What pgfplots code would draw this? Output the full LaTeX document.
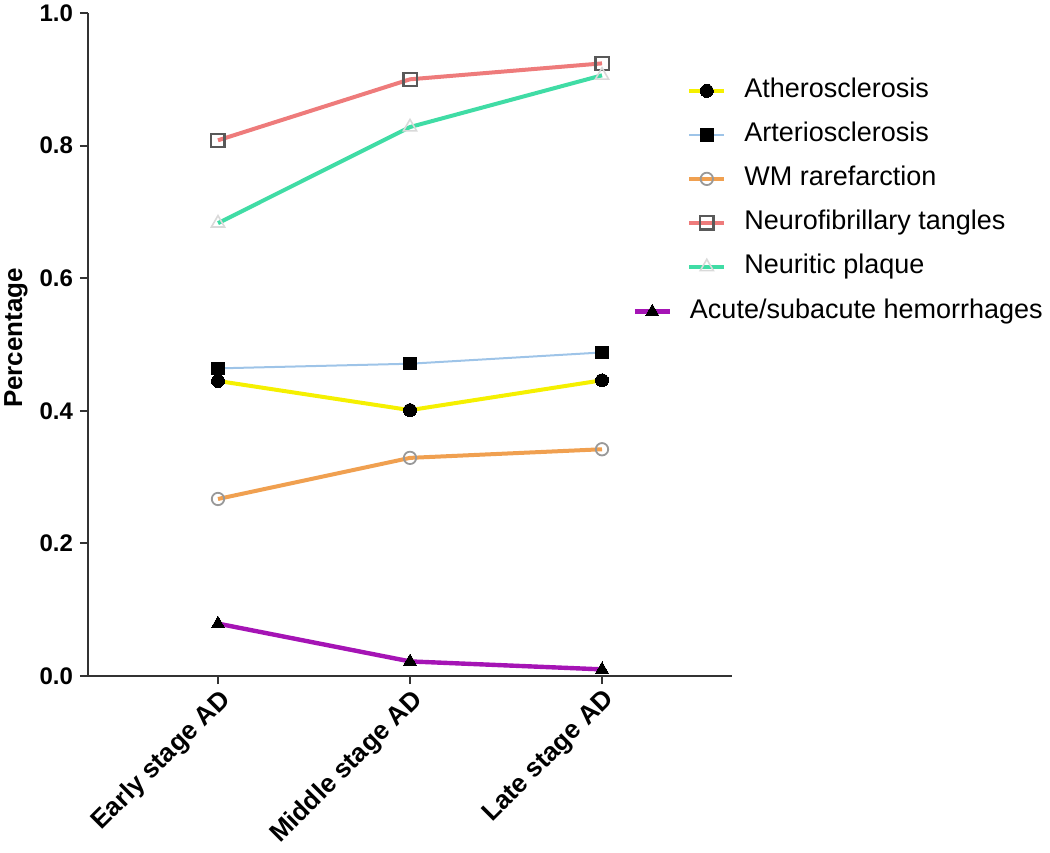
\documentclass[border=0pt]{standalone}
\usepackage{pgfplots}
\pgfplotsset{compat=1.18}
\usepackage{fontspec}
\setmainfont{Liberation Sans}

\definecolor{cAth}{HTML}{F5F000}
\definecolor{cArt}{HTML}{9EC4E8}
\definecolor{cWM}{HTML}{F0A050}
\definecolor{cNft}{HTML}{EE7B7B}
\definecolor{cNp}{HTML}{40DCA5}
\definecolor{cAcu}{HTML}{A514B5}
\definecolor{cAxis}{HTML}{333333}

\pgfplotsset{
  common/.style={
    scale only axis, width=322pt, height=331.5pt,
    xmin=-0.677, xmax=2.677, ymin=0, ymax=1,
    clip=false,
    legend image code/.code={\draw[mark repeat=2,mark phase=2]
      plot coordinates {(0pt,0pt)(8.75pt,0pt)(17.5pt,0pt)};},
    legend cell align=left,
  },
  legstyle/.style={
    draw=none, fill=none, inner sep=0pt, row sep=9.5pt, column sep=9pt,
    font=\fontsize{13.5}{15}\selectfont,
    nodes={inner sep=0pt, text height=9.7pt, text depth=2.8pt},
  },
}

\begin{document}
\begin{tikzpicture}
\useasboundingbox (-44pt,-88pt) rectangle (481pt,338pt);
\begin{axis}[common,
  axis lines=left,
  axis line style={-, cAxis, line width=1pt},
  tick style={cAxis, line width=1pt},
  tick align=outside,
  major tick length=4pt,
  xtick={0,1,2},
  xticklabels={Early stage AD, Middle stage AD, Late stage AD},
  xticklabel style={rotate=45, anchor=north east, inner sep=1pt, font=\fontsize{13}{15}\selectfont\bfseries},
  ytick={0,0.2,0.4,0.6,0.8,1.0},
  yticklabel style={font=\fontsize{12}{14}\selectfont\bfseries},
  /pgf/number format/assume math mode=true,
  /pgf/number format/.cd, fixed, fixed zerofill, precision=1, /pgfplots/.cd,
  ylabel={Percentage},
  every axis y label/.style={at={(axis description cs:-0.112,0.51)}, rotate=90, anchor=center,
    font=\fontsize{13}{15}\selectfont\bfseries},
  legend style={legstyle, at={(0.930,0.902)}, anchor=north west},
]
\addplot[cAth, line width=2pt, mark=*, mark size=3.25pt, mark options={fill=black, draw=black, line width=0pt}]
  coordinates {(0,0.445) (1,0.401) (2,0.446)};
\addlegendentry{Atherosclerosis}
\addplot[cArt, line width=1pt, mark=square*, mark size=3.1pt, mark options={fill=black, draw=black, line width=0pt}]
  coordinates {(0,0.464) (1,0.471) (2,0.488)};
\addlegendentry{Arteriosclerosis}
\addplot[cWM, line width=2pt, mark=o, mark size=3.1pt, mark options={draw=black!40, line width=0.9pt, fill=none}]
  coordinates {(0,0.267) (1,0.329) (2,0.342)};
\addlegendentry{WM rarefarction}
\addplot[cNft, line width=2pt, mark=square, mark size=3.3pt, mark options={draw=black!65, line width=1.1pt}]
  coordinates {(0,0.808) (1,0.900) (2,0.924)};
\addlegendentry{Neurofibrillary tangles}
\addplot[cNp, line width=2pt, mark=triangle, mark size=3.8pt, mark options={draw=black!15, line width=0.8pt}]
  coordinates {(0,0.683) (1,0.828) (2,0.906)};
\addlegendentry{Neuritic plaque}
\end{axis}
\begin{axis}[common, hide axis,
  legend style={legstyle, at={(0.845,0.569)}, anchor=north west},
]
\addplot[cAcu, line width=2.2pt, mark=triangle*, mark size=3.7pt, mark options={fill=black, draw=black, line width=0pt}]
  coordinates {(0,0.079) (1,0.022) (2,0.010)};
\addlegendentry{Acute/subacute hemorrhages}
\end{axis}
\end{tikzpicture}
\end{document}
